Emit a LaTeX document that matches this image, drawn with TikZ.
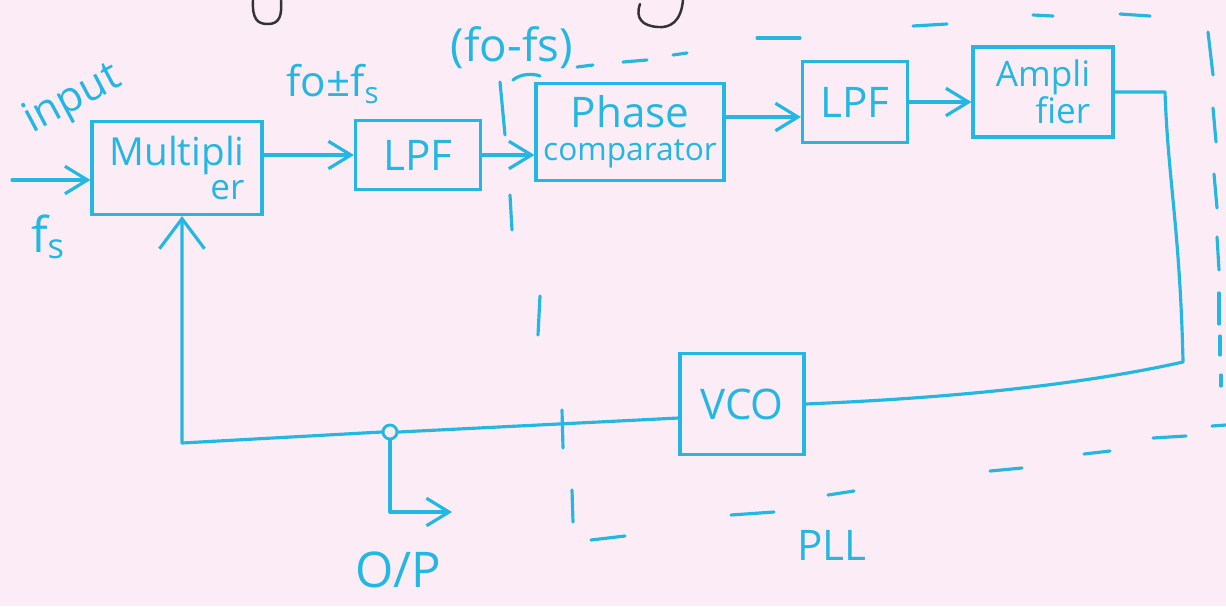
\documentclass[tikz,border=0pt]{standalone}
\usepackage{fontspec}
\setmainfont{Open Sans}
\usetikzlibrary{arrows.meta}
\definecolor{pen}{RGB}{35,183,228}
\definecolor{paper}{RGB}{251,236,246}
\begin{document}
\begin{tikzpicture}[x=0.02cm,y=-0.02cm,
  pen/.style={draw=pen, line width=1.8pt, line cap=round, line join=round},
  blk/.style={draw=pen, line width=1.8pt, rectangle, inner sep=0pt, text=pen, font=\fontsize{20}{19}\selectfont},
  arr/.style={pen, -{Straight Barb[length=4.5mm,width=5.5mm]}},
  bigarr/.style={pen, -{Straight Barb[length=6mm,width=9mm]}},
  lbl/.style={text=pen, inner sep=0pt},
  ink/.style={draw=black!80, line width=1.4pt, line cap=round}
]
\fill[paper] (0,0) rectangle (1226,606);
\useasboundingbox (0,0) rectangle (1226,606);

% cut-off black ink at the top
\draw[ink] (253,0) .. controls (252,20) and (258,24) .. (268,24) .. controls (280,24) and (282,15) .. (281,0);
\draw[ink] (683,0) .. controls (681,22) and (670,28) .. (658,27) .. controls (642,26) and (635,18) .. (640,4);

% blocks
\node[blk, minimum width=3.4cm, minimum height=1.86cm, align=right] (mult) at (177,168) {\fontsize{22}{19}\selectfont Multipli\\er};
\node[blk, minimum width=2.5cm, minimum height=1.38cm] (lpf1) at (418,155) {\fontsize{24}{24}\selectfont LPF};
\node[blk, minimum width=3.76cm, minimum height=1.94cm, align=center] (pc) at (630,132) {{\fontsize{24}{19}\selectfont Phase}\\\fontsize{18}{19}\selectfont comparator};
\node[blk, minimum width=2.1cm, minimum height=1.62cm] (lpf2) at (855,102) {\fontsize{24}{24}\selectfont LPF};
\node[blk, minimum width=2.8cm, minimum height=1.8cm, align=right] (amp) at (1043,92) {Ampli\\fier};
\node[blk, minimum width=2.48cm, minimum height=2.02cm] (vco) at (742,404) {\fontsize{24}{24}\selectfont VCO};

% junction
\node[draw=pen, line width=1.6pt, circle, minimum size=0.28cm, inner sep=0pt] (j) at (390,432) {};

% coordinates
\coordinate (inp) at (12,180);
\path (pc.east) ++(0,-15) coordinate (pco);
\coordinate (r1) at (1165,92);
\coordinate (r2) at (1183,362);
\path (vco.west) ++(0,14) coordinate (vl);
\coordinate (c3) at (182,443);
\coordinate (op) at (452,512);

% connectors
\draw[arr] (inp) -- (inp -| mult.west);
\draw[arr] (mult.east |- lpf1.west) -- (lpf1.west);
\draw[arr] (lpf1.east) -- (lpf1.east -| pc.west);
\draw[arr] (pco) -- (pco -| lpf2.west);
\draw[arr] (lpf2.east) -- (lpf2.east -| amp.west);
\draw[pen] (amp.east) -- (r1) .. controls (1168,180) and (1180,230) .. (r2)
  .. controls (1080,385) and (950,398) .. (vco.east);
\draw[pen] (vl) -- (j.east);
\draw[bigarr] (j.west) -- (c3) -- (c3 |- mult.south);
\draw[arr] (j.south) -- (j.south |- op) -- (op);

% labels
\node[lbl, rotate=28, font=\fontsize{24}{24}\selectfont] (tin) at (73,100) {input};
\node[lbl, font=\fontsize{28}{28}\selectfont] (tfs) at (48,237) {f\textsubscript{s}};
\node[lbl, font=\fontsize{24}{24}\selectfont] (tsum) at (333,84) {fo±f\textsubscript{s}};
\node[lbl, font=\fontsize{26}{26}\selectfont] (tdiff) at (512,48) {(fo-fs)};
\node[lbl, font=\fontsize{28}{28}\selectfont] (top) at (398,570) {O/P};
\node[lbl, font=\fontsize{24}{24}\selectfont] (tpll) at (832,545) {PLL};

% dashed PLL boundary (hand-drawn dashes)
\foreach \a/\b/\c/\d in {
  577/67/593/65, 623/62/647/60, 673/55/687/53, 757/38/800/38, 913/26/947/24,
  1033/15/1053/16, 1120/14/1150/16,
  1208/32/1213/75, 1213/108/1216/142, 1214/174/1217/208, 1217/237/1219/270,
  1219/293/1219/324, 1220/336/1220/355, 1221/375/1221/386,
  1212/426/1226/425, 1153/438/1186/436, 1084/454/1110/451, 990/471/1022/468,
  828/495/854/491, 731/515/774/512, 591/540/625/536,
  572/490/573/522, 562/410/563/448, 540/296/538/335, 510/195/512/230, 500/82/505/135}
  \draw[pen] (\a,\b) -- (\c,\d);
\draw[pen] (513,80) .. controls (520,74) and (532,73) .. (540,76);
\end{tikzpicture}
\end{document}
